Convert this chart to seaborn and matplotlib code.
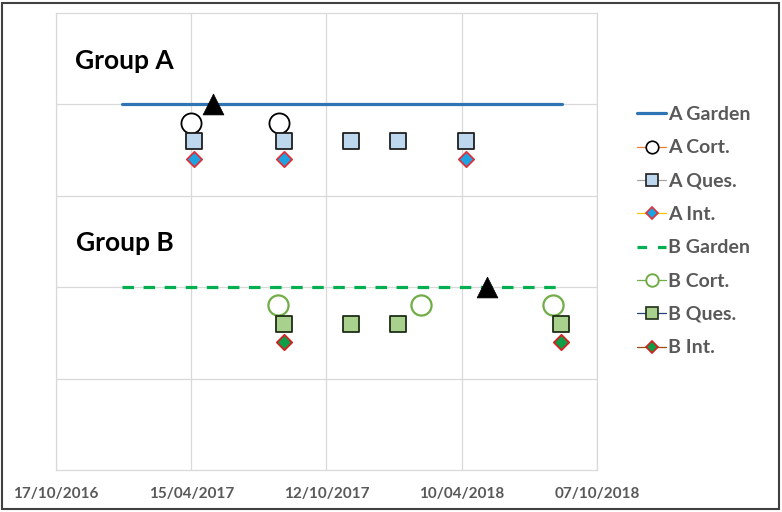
import matplotlib
matplotlib.use("Agg")
import matplotlib.pyplot as plt
import matplotlib.dates as mdates
from matplotlib.lines import Line2D
from matplotlib.patches import Rectangle
import pandas as pd
import seaborn as sns

# ---------------- data ----------------
x_ticks = ["2016-10-17", "2017-04-15", "2017-10-12", "2018-04-10", "2018-10-07"]
y_min, y_max = 0, 5
y_ticks = [1, 2, 3, 4]

a_garden_dates = ["2017-01-13", "2018-08-22"]
a_garden_vals = [4, 4]
a_cort_dates = ["2017-04-15", "2017-08-10"]
a_cort_vals = [3.8, 3.8]
a_ques_dates = ["2017-04-18", "2017-08-17", "2017-11-14", "2018-01-15", "2018-04-15"]
a_ques_vals = [3.6, 3.6, 3.6, 3.6, 3.6]
a_int_dates = ["2017-04-18", "2017-08-17", "2018-04-15"]
a_int_vals = [3.4, 3.4, 3.4]
a_event_dates = ["2017-05-14"]
a_event_vals = [4]

b_garden_dates = ["2017-01-13", "2018-08-22"]
b_garden_vals = [2, 2]
b_cort_dates = ["2017-08-09", "2018-02-15", "2018-08-10"]
b_cort_vals = [1.8, 1.8, 1.8]
b_ques_dates = ["2017-08-17", "2017-11-14", "2018-01-15", "2018-08-20"]
b_ques_vals = [1.6, 1.6, 1.6, 1.6]
b_int_dates = ["2017-08-17", "2018-08-20"]
b_int_vals = [1.4, 1.4]
b_event_dates = ["2018-05-14"]
b_event_vals = [2]

group_labels = ["Group A", "Group B"]
group_label_dates = ["2016-11-11", "2016-11-13"]
group_label_vals = [4.47, 2.48]

legend_labels = ["A Garden", "A Cort.", "A Ques.", "A Int.",
                 "B Garden", "B Cort.", "B Ques.", "B Int."]

# ---------------- style ----------------
sns.set_theme(style="white")
plt.rcParams['font.family'] = ['Lato', 'DejaVu Sans']

fig = plt.figure(figsize=(7.82, 5.12), dpi=100)
ax = fig.add_axes([56 / 782, 1 - 470 / 512, (597 - 56) / 782, (470 - 13) / 512])

def d(lst):
    return pd.to_datetime(lst)

grid_c = "#d9d9d9"

# Garden lines
sns.lineplot(x=d(a_garden_dates), y=a_garden_vals, ax=ax, color="#2e75b6",
             linewidth=2.3, zorder=3)
sns.lineplot(x=d(b_garden_dates), y=b_garden_vals, ax=ax, color="#00b050",
             linewidth=2.3, linestyle=(0, (3.6, 3.0)), zorder=3)

# Group A markers
sns.scatterplot(x=d(a_cort_dates), y=a_cort_vals, ax=ax, marker="o", s=14.5**2,
                color="white", edgecolor="black", linewidth=1.3, zorder=4)
sns.scatterplot(x=d(a_ques_dates), y=a_ques_vals, ax=ax, marker="s", s=11.5**2,
                color="#bdd7ee", edgecolor="#1f1f1f", linewidth=1.3, zorder=4)
sns.scatterplot(x=d(a_int_dates), y=a_int_vals, ax=ax, marker="D", s=7.8**2,
                color="#1fa3e0", edgecolor="#e0303a", linewidth=1.3, zorder=4)
sns.scatterplot(x=d(a_event_dates), y=a_event_vals, ax=ax, marker="^", s=15**2,
                color="black", edgecolor="black", linewidth=0.5, zorder=5)

# Group B markers
sns.scatterplot(x=d(b_cort_dates), y=b_cort_vals, ax=ax, marker="o", s=14.5**2,
                color="white", edgecolor="#70ad47", linewidth=1.6, zorder=4)
sns.scatterplot(x=d(b_ques_dates), y=b_ques_vals, ax=ax, marker="s", s=11.5**2,
                color="#a9d18e", edgecolor="#1f2d16", linewidth=1.3, zorder=4)
sns.scatterplot(x=d(b_int_dates), y=b_int_vals, ax=ax, marker="D", s=7.8**2,
                color="#0f9d48", edgecolor="#d42020", linewidth=1.3, zorder=4)
sns.scatterplot(x=d(b_event_dates), y=b_event_vals, ax=ax, marker="^", s=15**2,
                color="black", edgecolor="black", linewidth=0.5, zorder=5)

# group labels
for lab, dt, v in zip(group_labels, group_label_dates, group_label_vals):
    ax.text(pd.Timestamp(dt), v, lab, fontsize=19, fontweight="bold",
            color="black", ha="left", va="center", zorder=6)

# axes
ax.set_xlim(pd.Timestamp(x_ticks[0]), pd.Timestamp(x_ticks[-1]))
ax.set_ylim(y_min, y_max)
ax.set_xticks(d(x_ticks))
ax.xaxis.set_major_formatter(mdates.DateFormatter("%d/%m/%Y"))
ax.set_yticks(y_ticks)
ax.set_yticklabels([])
ax.tick_params(axis="x", length=0, pad=12, labelsize=11, labelcolor="#595959")
ax.tick_params(axis="y", length=0)
for lbl in ax.get_xticklabels():
    lbl.set_fontweight("bold")
ax.grid(True, color=grid_c, linewidth=0.9)
ax.set_axisbelow(True)
for sp in ax.spines.values():
    sp.set_color(grid_c)
    sp.set_linewidth(0.9)
ax.set_xlabel("")
ax.set_ylabel("")
if ax.get_legend():
    ax.get_legend().remove()

# legend
hs = [
    Line2D([], [], color="#2e75b6", lw=2.3),
    Line2D([], [], color="#ed7d31", lw=0.9, marker="o", ms=9, mfc="white", mec="black", mew=1.2),
    Line2D([], [], color="#a5a5a5", lw=0.9, marker="s", ms=8, mfc="#bdd7ee", mec="#1f1f1f", mew=1.2),
    Line2D([], [], color="#ffc000", lw=0.9, marker="D", ms=6, mfc="#1fa3e0", mec="#e0303a", mew=1.2),
    Line2D([], [], color="#00b050", lw=2.3, linestyle=(0, (3.0, 3.4))),
    Line2D([], [], color="#70ad47", lw=0.9, marker="o", ms=9, mfc="white", mec="#70ad47", mew=1.4),
    Line2D([], [], color="#264478", lw=0.9, marker="s", ms=8, mfc="#a9d18e", mec="#1f2d16", mew=1.2),
    Line2D([], [], color="#9e480e", lw=0.9, marker="D", ms=6, mfc="#0f9d48", mec="#d42020", mew=1.2),
]
leg = fig.legend(hs, legend_labels, loc="upper left",
                 bbox_to_anchor=(637 / 782, 1 - 106 / 512), frameon=False,
                 handlelength=1.5, handletextpad=0.12, labelspacing=0.84,
                 borderpad=0, borderaxespad=0,
                 prop={"family": "Lato", "weight": "bold", "size": 14})
for t in leg.get_texts():
    t.set_color("#595959")

# outer border
fig.patches.append(Rectangle((2 / 782, 3 / 512), 777 / 782, 506 / 512,
                             transform=fig.transFigure, fill=False,
                             edgecolor="#404040", linewidth=1.5))

fig.savefig("out.png", dpi=100)
